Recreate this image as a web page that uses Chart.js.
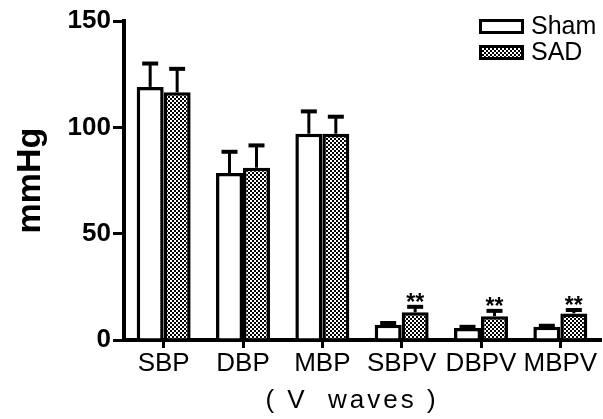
<!DOCTYPE html>
<html>
<head>
<meta charset="utf-8">
<script src="https://cdn.jsdelivr.net/npm/chart.js@4"></script>
<style>
  html, body { margin: 0; padding: 0; background: #fff; }
  #wrap { width: 603px; height: 419px; }
</style>
</head>
<body>
<div id="wrap"><canvas id="myChart" width="603" height="419"></canvas></div>
<script>
const categories = ['SBP', 'DBP', 'MBP', 'SBPV', 'DBPV', 'MBPV']
const shamMean = [119, 78.5, 97, 7.2, 5.6, 6.2]
const shamErr = [11, 10, 10.5, 0.8, 0.6, 0.5]
const sadMean = [116.5, 81, 97, 13, 11.2, 12.5]
const sadErr = [11, 10.5, 8, 2.6, 2.5, 1.6]
const starred = ['', '', '', '**', '**', '**']
const yTicks = [0, 50, 100, 150]
const xTitle = '( V  waves )'

const FONT = '"Liberation Sans", Arial'

// checker pattern for the SAD bars
const tile = document.createElement('canvas')
tile.width = 4
tile.height = 4
const tctx = tile.getContext('2d')
tctx.fillStyle = '#fff'
tctx.fillRect(0, 0, 4, 4)
tctx.fillStyle = '#000'
tctx.fillRect(0, 0, 2, 2)
tctx.fillRect(2, 2, 2, 2)

var ctx = document.getElementById('myChart')
const checker = ctx.getContext('2d').createPattern(tile, 'repeat')

const errorBars = {
    id: 'errorBars',
    afterDatasetsDraw(chart) {
        const c = chart.ctx
        const y = chart.scales.y
        const errs = [shamErr, sadErr]
        c.save()
        c.strokeStyle = '#000'
        chart.data.datasets.forEach((ds, di) => {
            chart.getDatasetMeta(di).data.forEach((bar, i) => {
                const top = y.getPixelForValue(ds.data[i])
                const end = y.getPixelForValue(ds.data[i] + errs[di][i])
                c.lineWidth = 3
                c.beginPath()
                c.moveTo(bar.x, top)
                c.lineTo(bar.x, end)
                c.stroke()
                c.lineWidth = 4
                c.beginPath()
                c.moveTo(bar.x - 8, end)
                c.lineTo(bar.x + 8, end)
                c.stroke()
                if (di == 1 && starred[i]) {
                    c.fillStyle = '#000'
                    c.font = 'bold 23px ' + FONT
                    c.textAlign = 'center'
                    c.textBaseline = 'alphabetic'
                    c.fillText(starred[i], bar.x, end + 3)
                }
            })
        })
        c.restore()
    },
    afterDraw(chart) {
        const c = chart.ctx
        c.save()
        // legend, top right
        chart.data.datasets.forEach((ds, di) => {
            const top = 19 + di * 26
            c.fillStyle = ds.backgroundColor
            c.fillRect(479, top, 45, 15)
            c.strokeStyle = '#000'
            c.lineWidth = 3
            c.strokeRect(480.5, top + 1.5, 42, 12)
            c.fillStyle = '#000'
            c.font = '25px ' + FONT
            c.textAlign = 'left'
            c.textBaseline = 'middle'
            c.fillText(ds.label, 531, top + 8)
        })
        // x axis title, wide spaced like the original
        const x = chart.scales.x
        c.font = '26px ' + FONT
        c.letterSpacing = '3px'
        c.textAlign = 'center'
        c.textBaseline = 'alphabetic'
        c.fillStyle = '#000'
        c.fillText(xTitle, (x.left + x.right) / 2 - 10, 408)
        c.restore()
    }
}

var myChart = new Chart(ctx, {
    type: 'bar',
    data: {
        labels: categories,
        datasets: [{
            label: 'Sham',
            data: shamMean,
            backgroundColor: '#fff',
            borderColor: '#000',
            borderWidth: 3.5,
            borderSkipped: 'bottom'
        }, {
            label: 'SAD',
            data: sadMean,
            backgroundColor: checker,
            borderColor: '#000',
            borderWidth: 3.5,
            borderSkipped: 'bottom'
        }]
    },
    options: {
        responsive: false,
        animation: false,
        layout: { padding: { top: 21, right: 3, left: 0, bottom: 0 } },
        datasets: { bar: { categoryPercentage: 0.68, barPercentage: 1 } },
        plugins: {
            legend: { display: false },
            tooltip: { enabled: false }
        },
        scales: {
            x: {
                afterFit: (s) => { s.height = 79 },
                grid: { drawOnChartArea: false, offset: false, color: '#000', lineWidth: 3, tickLength: 8 },
                border: { display: true, color: '#000', width: 4 },
                ticks: { color: '#000', font: { family: FONT, size: 26 }, padding: 0, maxRotation: 0, autoSkip: false }
            },
            y: {
                min: 0,
                max: 150,
                afterFit: (s) => { s.width = 124 },
                afterBuildTicks: (s) => { s.ticks = yTicks.map(v => ({ value: v })) },
                grid: { drawOnChartArea: false, color: '#000', lineWidth: 3, tickLength: 11 },
                border: { display: true, color: '#000', width: 4 },
                ticks: { color: '#000', font: { family: FONT, size: 26, weight: 'bold' }, padding: 2 },
                title: {
                    display: true,
                    text: 'mmHg',
                    color: '#000',
                    font: { family: FONT, size: 34, weight: 'bold' },
                    padding: { top: 10, bottom: 0 }
                }
            }
        }
    },
    plugins: [errorBars]
})
</script>
</body>
</html>
